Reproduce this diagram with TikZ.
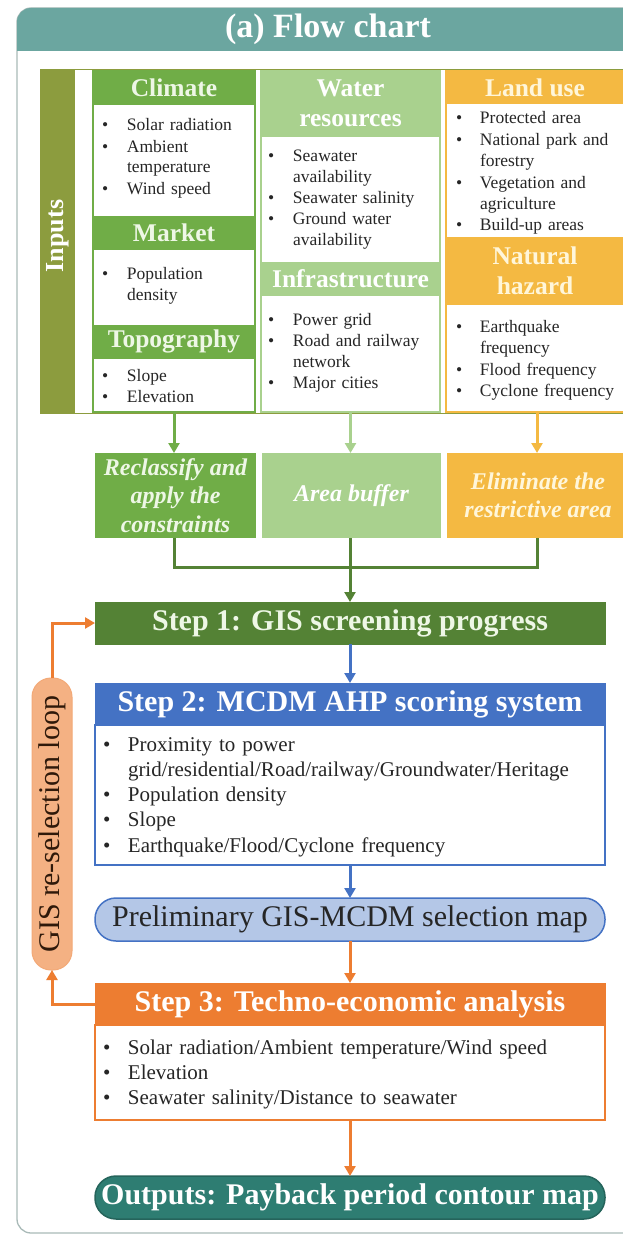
\documentclass[tikz,border=0pt]{standalone}
\usepackage{fontspec}
\setmainfont{Liberation Serif}
\usetikzlibrary{arrows.meta}
\definecolor{cFrame}{HTML}{A9BAB8}
\definecolor{cTitle}{HTML}{6BA6A0}
\definecolor{cOlive}{HTML}{8C9C3E}
\definecolor{cGreen}{HTML}{70AD47}
\definecolor{cLight}{HTML}{A9D18E}
\definecolor{cGold}{HTML}{F4B942}
\definecolor{cDark}{HTML}{548235}
\definecolor{cBlue}{HTML}{4472C4}
\definecolor{cPale}{HTML}{B4C7E7}
\definecolor{cOrange}{HTML}{ED7D31}
\definecolor{cPeach}{HTML}{F4B183}
\definecolor{cTeal}{HTML}{2E7D72}
\definecolor{cHdrTxt}{HTML}{EEF7E6}
\definecolor{cGoldTxt}{HTML}{FFF6DA}
\definecolor{cBody}{HTML}{262626}
\newlength\itmind
\newcommand\itm[1]{\noindent\hangindent=\itmind\hangafter=1\makebox[\itmind][l]{\textbullet}#1\par}
\tikzset{
  every node/.style={inner sep=0pt, outer sep=0pt},
  hdrbox/.style={anchor=north west, align=center, fill=#1, draw=#1, text=cHdrTxt,
    font=\bfseries\fontsize{25.5}{30}\selectfont},
  colbox/.style={anchor=north west, fill=white, draw=#1, line width=1.2pt},
  lstbox/.style={anchor=base west, align=left, text width=#1, text=cBody},
  smalltxt/.style={font=\fontsize{17.5}{21}\selectfont},
  bigtxt/.style={font=\fontsize{21}{25.3}\selectfont},
  procbox/.style={anchor=north west, align=center, fill=#1, minimum height=85,
    font=\bfseries\itshape\fontsize{24}{28.5}\selectfont},
  stepbox/.style={anchor=north west, fill=#1, draw=#1, minimum width=510, minimum height=42,
    text=white, font=\bfseries\fontsize{30}{34}\selectfont},
  bodybox/.style={anchor=north west, fill=white, draw=#1, line width=1.5pt, minimum width=510},
  pillbox/.style={anchor=north west, minimum width=510, minimum height=43, rounded corners=21pt,
    line width=1.5pt, font=\fontsize{30}{34}\selectfont},
  arrw/.style={-{Triangle[width=11pt,length=10pt]}, line width=3pt, draw=#1}
}
\begin{document}
\begin{tikzpicture}[x=1pt,y=-1pt]
\useasboundingbox (0,0) rectangle (623,1236);
\clip (0,0) rectangle (623,1236);
\fill[white] (0,0) rectangle (623,1236);
% frame and title
\draw[cFrame, line width=1.3pt, rounded corners=14pt] (17,8) rectangle (645,1233);
\fill[cTitle, rounded corners=14pt] (17,8) rectangle (645,51);
\fill[cTitle] (17,30) rectangle (645,51);
\node[text=white, font=\bfseries\fontsize{34}{38}\selectfont] (title) at (328,29) {(a) Flow chart};
% inputs
\node[anchor=north west, draw=cOlive, line width=1pt, fill=white, minimum width=600, minimum height=343] (inputs) at (40,70) {};
\node[anchor=north west, fill=cOlive, minimum width=35, minimum height=343] (band) at (40,70) {};
\node[rotate=90, text=white, font=\bfseries\fontsize{26}{30}\selectfont] (inlbl) at (58,236) {Inputs};
% column 1
\node[colbox=cGreen, minimum width=162, minimum height=341] (col1) at (93,71) {};
\node[hdrbox=cGreen, minimum width=162, minimum height=33] (hclim) at (93,71) {Climate};
\node[hdrbox=cGreen, minimum width=162, minimum height=33] (hmark) at (93,216) {Market};
\node[hdrbox=cGreen, minimum width=162, minimum height=33] (htopo) at (93,325) {Topography};
\node[lstbox=150pt, smalltxt] (lclim) at (102,131) {\setlength\itmind{25pt}\itm{Solar radiation}\itm{Ambient\newline temperature}\itm{Wind speed}};
\node[lstbox=150pt, smalltxt] (lmark) at (102,279) {\setlength\itmind{25pt}\itm{Population\newline density}};
\node[lstbox=150pt, smalltxt] (ltopo) at (102,381) {\setlength\itmind{25pt}\itm{Slope}\itm{Elevation}};
% column 2
\node[colbox=cLight, minimum width=179, minimum height=341] (col2) at (261,71) {};
\node[hdrbox=cLight, text=white, minimum width=179, minimum height=65] (hwater) at (261,71) {Water\\resources};
\node[hdrbox=cLight, text=white, minimum width=179, minimum height=33] (hinfra) at (261,262) {Infrastructure};
\node[lstbox=170pt, smalltxt] (lwater) at (268,161) {\setlength\itmind{25pt}\itm{Seawater\newline availability}\itm{Seawater salinity}\itm{Ground water\newline availability}};
\node[lstbox=170pt, smalltxt] (linfra) at (268,325) {\setlength\itmind{25pt}\itm{Power grid}\itm{Road and railway\newline network}\itm{Major cities}};
% column 3
\node[colbox=cGold, minimum width=190, minimum height=341] (col3) at (446,71) {};
\node[anchor=north west, fill=cGold, minimum width=190, minimum height=33] (hlandbg) at (446,71) {};
\node[text=cGoldTxt, font=\bfseries\fontsize{25.5}{30}\selectfont] (hland) at (535,87.5) {Land use};
\node[anchor=north west, fill=cGold, minimum width=190, minimum height=68] (hnatbg) at (446,237) {};
\node[align=center, text=cGoldTxt, font=\bfseries\fontsize{25.5}{30}\selectfont] (hnat) at (535,271) {Natural\\hazard};
\node[lstbox=170pt, font=\fontsize{17.5}{21.4}\selectfont] (lland) at (456,124) {\setlength\itmind{24pt}\itm{Protected area}\itm{National park and\newline forestry}\itm{Vegetation and\newline agriculture}\itm{Build-up areas}};
\node[lstbox=170pt, font=\fontsize{17.5}{21.5}\selectfont] (lnat) at (456,332) {\setlength\itmind{24pt}\itm{Earthquake\newline frequency}\itm{Flood frequency}\itm{Cyclone frequency}};
% process boxes
\node[procbox=cGreen, minimum width=161, text=cHdrTxt] (p1) at (95,453) {Reclassify and\\apply the\\constraints};
\node[procbox=cLight, minimum width=179, text=white] (p2) at (262,453) {Area buffer};
\node[procbox=cGold, minimum width=182, text=cGoldTxt] (p3) at (447,453) {Eliminate the\\restrictive area};
\draw[arrw=cGreen] (col1.south) -- (col1.south |- p1.north);
\draw[arrw=cLight] (col2.south) -- (col2.south |- p2.north);
\draw[arrw=cGold] (537,412) -- (537,453);
% steps
\node[stepbox=cDark, text=cHdrTxt] (step1) at (95,602) {Step 1: GIS screening progress};
\draw[cDark, line width=3pt] (p1.south -| col1.south) -- ++(0,29) -| (537,538);
\draw[arrw=cDark] (350,538) -- (350,602);
\node[stepbox=cBlue] (step2h) at (95,683) {Step 2: MCDM AHP scoring system};
\node[bodybox=cBlue, minimum height=140] (step2b) at (95,725) {};
\node[lstbox=480pt, bigtxt] (lstep2) at (103,751) {\setlength\itmind{25pt}\itm{Proximity to power\newline grid/residential/Road/railway/Groundwater/Heritage}\itm{Population density}\itm{Slope}\itm{Earthquake/Flood/Cyclone frequency}};
\draw[arrw=cBlue] (step1.south) -- (step2h.north);
\node[pillbox, fill=cPale, draw=cBlue, text=cBody] (prelim) at (95,898) {Preliminary GIS-MCDM selection map};
\draw[arrw=cBlue] (step2b.south) -- (prelim.north);
\node[stepbox=cOrange] (step3h) at (95,983) {Step 3: Techno-economic analysis};
\node[bodybox=cOrange, minimum height=95] (step3b) at (95,1025) {};
\node[lstbox=480pt, bigtxt] (lstep3) at (103,1054) {\setlength\itmind{25pt}\itm{Solar radiation/Ambient temperature/Wind speed}\itm{Elevation}\itm{Seawater salinity/Distance to seawater}};
\draw[arrw=cOrange] (prelim.south) -- (step3h.north);
\node[pillbox, fill=cTeal, draw=cTeal!80!black, text=white, font=\bfseries\fontsize{30}{34}\selectfont] (outp) at (95,1176) {Outputs: Payback period contour map};
\draw[arrw=cOrange] (step3b.south) -- (outp.north);
% loop
\node[fill=cPeach, draw=cPeach!85!cOrange, line width=1pt, rounded corners=19pt, minimum width=40, minimum height=292] (loop) at (52,824) {};
\node[rotate=90, text=black!80!cOrange, font=\fontsize{30}{34}\selectfont] (looptxt) at (loop.center) {GIS re-selection loop};
\draw[arrw=cOrange] (loop.north) |- (step1.west);
\draw[arrw=cOrange] (step3h.west) -| (loop.south);
\end{tikzpicture}
\end{document}
